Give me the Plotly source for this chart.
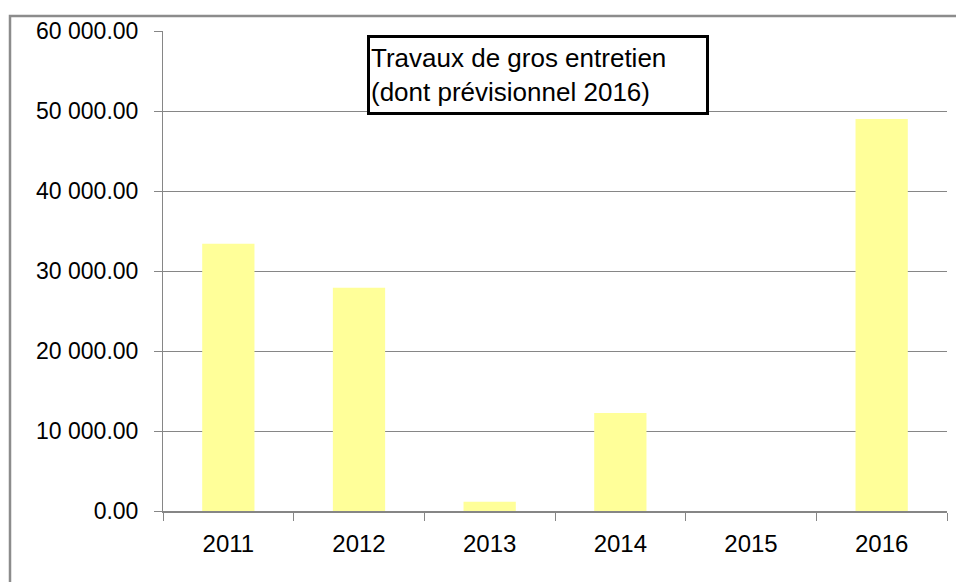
import plotly.graph_objects as go

years = ["2011", "2012", "2013", "2014", "2015", "2016"]
values = [33400, 27900, 1150, 12250, 0, 49000]
y_ticks = [0, 10000, 20000, 30000, 40000, 50000, 60000]
title_text = "Travaux de gros entretien<br>(dont prévisionnel 2016)"

W, H = 956, 582
L, R, T, B = 163, 9, 31, 71
pw, ph = W - L - R, H - T - B

def px_x(p):
    return (p - L) / pw

def px_y(p):
    return (H - B - p) / ph

FONT = "Liberation Sans, Arial, sans-serif"

fig = go.Figure()
fig.add_trace(go.Bar(x=years, y=values, marker=dict(color="#FFFF99", line=dict(width=0))))

fig.update_layout(
    width=W, height=H,
    margin=dict(l=L, r=R, t=T, b=B, autoexpand=False),
    paper_bgcolor="white", plot_bgcolor="white",
    bargap=0.6, showlegend=False,
    separators=". ",
    font=dict(family=FONT, color="black"),
    xaxis=dict(
        showgrid=False, showline=True, linecolor="#868686", linewidth=1.5,
        ticks="outside", tickson="boundaries", ticklen=8, tickcolor="#868686",
        tickfont=dict(size=24, color="black"), ticklabelstandoff=10,
    ),
    yaxis=dict(
        range=[0, 60000], tickvals=y_ticks, tickformat=",.2f",
        showgrid=True, gridcolor="#868686", gridwidth=1,
        showline=True, linecolor="#868686", linewidth=1,
        ticks="outside", ticklen=8, tickcolor="#868686",
        tickfont=dict(size=23, color="black"), zeroline=False, ticklabelstandoff=11,
    ),
    shapes=[dict(type="rect", xref="paper", yref="paper",
                 x0=px_x(10), x1=px_x(975), y0=px_y(610), y1=px_y(16),
                 line=dict(color="#8C8C8C", width=2.5), fillcolor="rgba(0,0,0,0)", layer="below")],
    annotations=[dict(text=title_text, xref="paper", yref="paper",
                      x=px_x(367), y=px_y(35), xanchor="left", yanchor="top",
                      showarrow=False, align="left", valign="middle",
                      width=334, height=72,
                      font=dict(size=26, family=FONT, color="black"),
                      bordercolor="black", borderwidth=3, borderpad=1, bgcolor="white")],
)

fig.write_html("out.html", config={"displayModeBar": False},
               post_script="document.body.style.margin='0';document.body.style.overflow='hidden';")
